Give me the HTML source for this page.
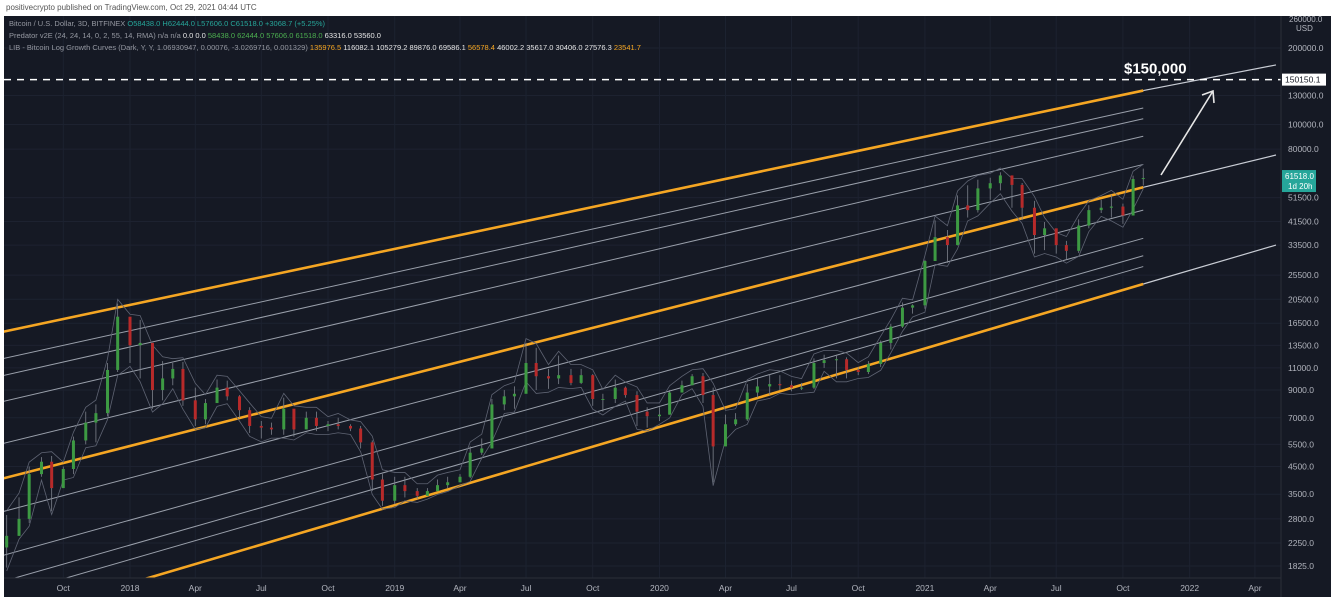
<!DOCTYPE html>
<html><head><meta charset="utf-8"><style>
html,body{margin:0;padding:0;background:#fff;width:1339px;height:602px;overflow:hidden;font-family:"Liberation Sans",sans-serif}
#wrap{position:relative;width:1339px;height:602px}
#pub{position:absolute;left:6px;top:3px;font-size:8px;color:#555}
svg{position:absolute;left:0;top:0}
</style></head><body><div id="wrap">
<div id="pub">positivecrypto published on TradingView.com, Oct 29, 2021 04:44 UTC</div>
<svg id="chart" width="1339" height="602"></svg>
</div>
<script>
// ---- data ----
const startDate = "2017-07-13";
const closeDates = ["2017-07-15","2017-08-01","2017-08-15","2017-09-01","2017-09-15","2017-10-01","2017-10-15","2017-11-01","2017-11-15","2017-12-01","2017-12-15",
"2018-01-01","2018-01-15","2018-02-01","2018-02-15","2018-03-01","2018-03-15","2018-04-01","2018-04-15","2018-05-01","2018-05-15","2018-06-01","2018-06-15","2018-07-01","2018-07-15","2018-08-01","2018-08-15","2018-09-01","2018-09-15","2018-10-01","2018-10-15","2018-11-01","2018-11-15","2018-12-01","2018-12-15",
"2019-01-01","2019-01-15","2019-02-01","2019-02-15","2019-03-01","2019-03-15","2019-04-01","2019-04-15","2019-05-01","2019-05-15","2019-06-01","2019-06-15","2019-07-01","2019-07-15","2019-08-01","2019-08-15","2019-09-01","2019-09-15","2019-10-01","2019-10-15","2019-11-01","2019-11-15","2019-12-01","2019-12-15",
"2020-01-01","2020-01-15","2020-02-01","2020-02-15","2020-03-01","2020-03-15","2020-04-01","2020-04-15","2020-05-01","2020-05-15","2020-06-01","2020-06-15","2020-07-01","2020-07-15","2020-08-01","2020-08-15","2020-09-01","2020-09-15","2020-10-01","2020-10-15","2020-11-01","2020-11-15","2020-12-01","2020-12-15",
"2021-01-01","2021-01-15","2021-02-01","2021-02-15","2021-03-01","2021-03-15","2021-04-01","2021-04-15","2021-05-01","2021-05-15","2021-06-01","2021-06-15","2021-07-01","2021-07-15","2021-08-01","2021-08-15","2021-09-01","2021-09-15","2021-10-01","2021-10-15","2021-10-29"];
const closes = [2400,2800,4200,4700,3700,4400,5700,6700,7300,10800,17500,
13500,13800,9000,10000,10900,8200,6900,8000,9200,8500,7500,6500,6400,6300,7600,6300,7000,6500,6600,6500,6350,5600,4000,3300,
3800,3600,3450,3600,3800,3900,4100,5100,5300,7900,8500,8700,11500,10200,10000,10300,9600,10300,8300,8300,9200,8600,7400,7100,
7200,8800,9400,10200,8600,5400,6600,6900,8800,9300,9500,9400,9200,9200,11500,11800,11900,10800,10600,11400,13800,16000,19000,19400,
29000,36000,33500,48000,46000,56000,58700,63000,57800,47000,36700,39000,33500,31800,40000,46000,47000,47500,43800,61000,61518];
const highs = [2900,3400,4500,4900,4950,4500,5900,7400,7900,11500,19700,
17200,17000,13000,11700,11500,11600,9200,8300,9900,9800,8600,7700,6800,6700,8400,7500,7400,7400,6800,7000,6600,6500,5700,4200,
4100,4100,3700,3700,4000,4100,4200,5400,5800,8300,9000,9300,13800,13200,10900,12300,10900,10900,10400,8700,9900,9300,8900,7700,
7700,9000,9800,10400,10500,9200,7200,7300,9500,10000,10400,10300,9800,9600,12000,12400,12400,12100,11100,11700,14100,16400,19900,19600,
29300,41900,38400,52600,57600,60600,61700,64800,59000,58800,50000,41300,36100,34800,42300,48100,50500,52900,48800,62900,67000];
const lows = [1800,2400,2700,4100,3000,4100,4200,5500,5600,7100,10600,
11500,10000,7600,8200,9400,7800,6500,6600,8000,8200,7000,6100,5800,6000,6000,5900,6300,6200,6200,6300,6200,5300,3600,3150,
3200,3400,3350,3450,3600,3700,3900,4050,5000,5800,7500,7600,10000,9000,9100,9500,9400,9500,7800,7400,8000,8400,6500,6400,
6800,7200,8900,9400,8000,3900,5900,6500,6800,8400,8600,9000,8900,9000,9100,11000,10000,10000,10300,10400,11100,13000,15800,18000,
18800,29000,28500,33400,43000,45000,50500,55000,47000,42000,31000,32000,31000,29300,31200,39000,44800,43000,40600,47800,57500];
const bandEndDate = "2021-10-29";
const bandStartPrices = [15100,11830,10140,8015,5475,3985,2950,1981,1565,1367,1093];
const bandEndPrices = [135976.5,116082.1,105279.2,89876.0,69586.1,56578.4,46002.2,35617.0,30406.0,27576.3,23541.7];
const bandIsMain = [true,false,false,false,false,true,false,false,false,false,true];
const extStartPrices = [135976.5,56578.4,23541.7];
const extEndPrices = [171500,75800,33500];
const extEndDate = "2022-04-30";
const targetPrice = 150150.1;
const lastPrice = 61518.0;
const yTicks = [200000,130000,100000,80000,51500,41500,33500,25500,20500,16500,13500,11000,9000,7000,5500,4500,3500,2800,2250,1825];
const xTickDates = ["2017-10-01","2018-01-01","2018-04-01","2018-07-01","2018-10-01","2019-01-01","2019-04-01","2019-07-01","2019-10-01","2020-01-01","2020-04-01","2020-07-01","2020-10-01","2021-01-01","2021-04-01","2021-07-01","2021-10-01","2022-01-01","2022-04-01"];
const xTickLabels = ["Oct","2018","Apr","Jul","Oct","2019","Apr","Jul","Oct","2020","Apr","Jul","Oct","2021","Apr","Jul","Oct","2022","Apr"];

// ---- scales ----
const NS="http://www.w3.org/2000/svg";
const svg=document.getElementById('chart');
const day=86400000, t0=Date.parse("2018-01-01");
function X(d){return 130+(Date.parse(d)-t0)/day*0.7253;}
function Y(p){return 48+(Math.log(200000)-Math.log(p))*110.3;}
function mk(tag,attrs,parent){const e=document.createElementNS(NS,tag);for(const k in attrs)e.setAttribute(k,attrs[k]);(parent||svg).appendChild(e);return e;}

const bg=mk('rect',{x:4,y:16,width:1327,height:581,fill:'#151924'});


const clipDef=mk('defs',{});
const cp=mk('clipPath',{id:'plotclip'},clipDef);
mk('rect',{x:4,y:16,width:1277,height:562},cp);
const grid=mk('g',{});


yTicks.forEach(v=>{mk('line',{x1:4,x2:1281,y1:Y(v),y2:Y(v),stroke:'#1d2230','stroke-width':1},grid);});
xTickDates.forEach(d=>{mk('line',{x1:X(d),x2:X(d),y1:16,y2:578,stroke:'#1d2230','stroke-width':1},grid);});

const plot=mk('g',{'clip-path':'url(#plotclip)'});



bandStartPrices.forEach((sp,i)=>{
  const l=mk('line',{x1:X(startDate)-8,y1:Y(sp),x2:X(bandEndDate),y2:Y(bandEndPrices[i]),stroke:bandIsMain[i]?'#f5a623':'#9aa0ab','stroke-width':bandIsMain[i]?2.6:1},plot);
  
  
});
extStartPrices.forEach((sp,i)=>{
  const l=mk('line',{x1:X(bandEndDate),y1:Y(sp),x2:X(extEndDate),y2:Y(extEndPrices[i]),stroke:'#c8ccd4','stroke-width':1.2},plot);
  
  
});

let up='',dn='';
closeDates.forEach((d,i)=>{up+=(i?'L':'M')+X(d)+' '+Y(highs[i]*1.04);dn+=(i?'L':'M')+X(d)+' '+Y(lows[i]*0.97);});
const e1=mk('path',{d:up,fill:'none',stroke:'#5e6372','stroke-width':0.8},plot);


const e2=mk('path',{d:dn,fill:'none',stroke:'#5e6372','stroke-width':0.8},plot);



closeDates.forEach((d,i)=>{
  const o=i?closes[i-1]:closes[0]*0.9, c=closes[i];
  const col=c>=o?'#3d9a43':'#b72a2a';
  const x=X(d);
  const g=mk('g',{},plot);
  
  
  mk('line',{x1:x,x2:x,y1:Y(highs[i]),y2:Y(lows[i]),stroke:'#7d828c','stroke-width':0.8},g);
  const top=Y(Math.max(o,c)),bot=Y(Math.min(o,c));
  mk('rect',{x:x-1.5,y:top,width:3,height:Math.max(1,bot-top),fill:col},g);
});

const tl=mk('line',{x1:4,x2:1281,y1:Y(targetPrice),y2:Y(targetPrice),stroke:'#fff','stroke-width':1.5,'stroke-dasharray':'7 6'});


const tt=mk('text',{x:1124,y:Y(targetPrice)-6,fill:'#fff','font-size':15,'font-weight':'bold','font-family':'Liberation Sans'});
tt.textContent='$150,000';


const ar=mk('g',{stroke:'#e6e6e6','stroke-width':1.6,fill:'none'});


mk('line',{x1:1161,y1:175,x2:1213,y2:91},ar);
mk('polyline',{points:'1202,95 1213,91 1214,103'},ar);

const ax=mk('g',{});


mk('line',{x1:1281,x2:1281,y1:16,y2:597,stroke:'#2a2e39'},ax);
mk('line',{x1:4,x2:1281,y1:578,y2:578,stroke:'#2a2e39'},ax);
yTicks.forEach(v=>{const t=mk('text',{x:1288,y:Y(v)+3,fill:'#b2b5be','font-size':8.5},ax);t.textContent=v.toFixed(1);

});
const usd=mk('text',{x:1296,y:31,fill:'#b2b5be','font-size':8},ax);usd.textContent='USD';


const t2=mk('text',{x:1289,y:22,fill:'#b2b5be','font-size':8},ax);t2.textContent='260000.0';


mk('rect',{x:1282,y:Y(targetPrice)-6,width:44,height:12,fill:'#fff'},ax);
const tb=mk('text',{x:1285,y:Y(targetPrice)+3,fill:'#131722','font-size':8.5},ax);tb.textContent=targetPrice.toFixed(1);


mk('rect',{x:1282,y:Y(lastPrice)-8,width:34,height:22,fill:'#26a69a'},ax);
const lb=mk('text',{x:1285,y:Y(lastPrice)+1,fill:'#fff','font-size':8},ax);lb.textContent=lastPrice.toFixed(1);


const lb2=mk('text',{x:1288,y:Y(lastPrice)+11,fill:'#fff','font-size':8},ax);lb2.textContent='1d 20h';



xTickDates.forEach((d,i)=>{const t=mk('text',{x:X(d),y:591,fill:'#b2b5be','font-size':8.5,'text-anchor':'middle'});t.textContent=xTickLabels[i];

});

const leg=mk('g',{'font-size':7.5});


function row(y,parts){const t=mk('text',{x:9,y:y},leg);parts.forEach(p=>{const s=mk('tspan',{fill:p[1]},t);s.textContent=p[0];});return t;}
const tk='#26a69a',gy='#9598a1',wh='#e6e6e6',gr='#4caf50',or='#f5a623';
row(26,[['Bitcoin / U.S. Dollar, 3D, BITFINEX  ',gy],['O58438.0  H62444.0  L57606.0  C61518.0  +3068.7 (+5.25%)',tk]]);
row(38,[['Predator v2E (24, 24, 14, 0, 2, 55, 14, RMA)  n/a  n/a  ',gy],['0.0  0.0  ',wh],['58438.0  62444.0  57606.0  61518.0  ',gr],['63316.0  53560.0',wh]]);
row(50,[['LIB - Bitcoin Log Growth Curves (Dark, Y, Y, 1.06930947, 0.00076, -3.0269716, 0.001329)  ',gy],['135976.5  ',or],['116082.1  105279.2  89876.0  69586.1  ',wh],['56578.4  ',or],['46002.2  35617.0  30406.0  27576.3  ',wh],['23541.7',or]]);
</script></body></html>
